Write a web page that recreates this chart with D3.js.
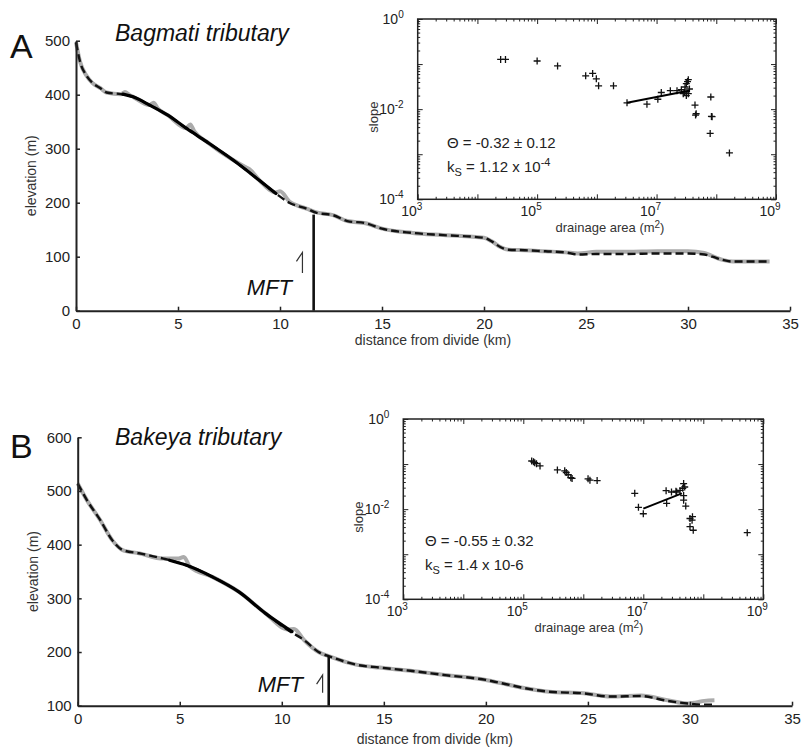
<!DOCTYPE html>
<html>
<head>
<meta charset="utf-8">
<script src="https://cdn.jsdelivr.net/npm/d3@7"></script>
<style>
  body { margin: 0; background: #fff; }
  svg { font-family: "Liberation Sans", Arial, Helvetica, sans-serif; }
</style>
</head>
<body>
<div id="chart"></div>
<script>
// long profiles: [distance from divide (km), elevation (m)]
const smoothA = [[0,497],[0.2,461],[0.5,436],[0.8,422],[1.2,412],[1.5,404],[2.2,401],[2.8,396],[3.6,381],[4.5,362],[5.4,338],[6.4,313],[7.7,279],[9.0,241],[9.8,217],[10.5,199],[11.3,189],[11.8,181],[12.6,177],[13.3,166],[14.2,162],[15,152],[16.5,144],[18,140],[20,135],[20.4,128],[20.8,118],[21.2,113],[22,112],[23,110],[24,108],[24.6,104],[25.5,105],[27,105],[28.5,106],[30,106],[30.8,104],[31.2,100],[31.7,94],[32.2,91],[33,91],[34,91]];
const rawA = [[0,497],[0.2,461],[0.5,436],[0.8,422],[1.2,412],[1.5,404],[2.2,401],[2.4,405],[2.6,400],[2.8,396],[3.6,381],[3.8,385],[4.0,375],[4.5,362],[5.4,338],[5.6,345],[5.8,332],[6.4,313],[7.7,279],[8.3,266],[8.5,262],[9.0,241],[9.8,219],[10.0,221],[10.5,201],[10.7,197],[11.3,189],[11.8,182],[12.6,177],[13.3,166],[14.2,162],[15,152],[16.5,144],[18,140],[20,135],[20.4,128],[20.8,118],[21.2,113],[22,112],[23,110],[24,108],[24.6,106],[25.5,109],[27,109],[28.5,110],[30,110],[30.8,107],[31.2,101],[31.7,94],[32.2,91],[33,91],[34,91]];
const fitProfileA = [[2.3,401],[2.8,396],[3.6,381],[4.5,362],[5.4,338],[6.4,313],[7.7,279],[9.0,241],[9.8,217]];

const smoothB = [[0,514],[0.45,483],[1.1,446],[1.7,408],[2.2,390],[3,384],[4.2,374],[5.3,362],[6.6,340],[7.9,312],[9.2,272],[10.3,241],[11.1,222],[11.8,200],[12.4,191],[13.7,176],[14.8,171],[16.3,165],[18,157],[20,148],[21,140],[22,132],[23.1,126],[24.8,123],[26.1,117],[27.6,118],[28.9,109],[29.9,104],[30.5,102],[31.2,102]];
const rawB = [[0,514],[0.45,483],[1.1,446],[1.7,408],[2.2,390],[3,384],[4.2,374],[4.9,374],[5.2,377],[5.5,359],[6.6,340],[7.9,312],[9.2,272],[10.3,242],[10.6,243],[11.1,222],[11.8,200],[12.4,191],[13.7,176],[14.8,171],[16.3,165],[18,157],[20,148],[21,140],[22,132],[23.1,126],[24.8,123],[26.1,117],[27.6,119],[28.9,110],[29.9,104],[30.3,106],[30.7,109],[31.2,110]];
const fitProfileB = [[4.5,371],[5.3,362],[6.6,340],[7.9,312],[9.2,272],[10.5,238]];

// slope-area data: [drainage area (m2), slope]
const slopeAreaA = [[2.45e4,0.127],[2.95e4,0.127],[1.0e5,0.117],[2.2e5,0.091],[6.5e5,0.055],[8.5e5,0.062],[9.8e5,0.047],[1.07e6,0.033],[1.9e6,0.033],[3.2e6,0.0138],[6.9e6,0.0129],[1.05e7,0.0166],[1.2e7,0.0234],[1.7e7,0.0257],[2.2e7,0.0257],[2.6e7,0.027],[2.8e7,0.022],[2.95e7,0.024],[3.15e7,0.037],[3.3e7,0.041],[3.4e7,0.045],[3.4e7,0.022],[3.15e7,0.02],[3.55e7,0.028],[3.0e7,0.031],[8.1e7,0.0186],[4.4e7,0.0123],[4.6e7,0.0079],[4.5e7,0.0074],[8.3e7,0.0069],[8.5e7,0.0068],[7.9e7,0.0029],[1.66e8,0.00107]];
const fitSlopeA = [[3.2e6,0.0138],[3.6e7,0.026]];

const slopeAreaB = [[1.38e5,0.117],[1.48e5,0.112],[1.55e5,0.107],[1.66e5,0.102],[1.9e5,0.091],[3.7e5,0.074],[4.9e5,0.071],[5.2e5,0.065],[5.6e5,0.058],[6.2e5,0.05],[6.5e5,0.048],[1.2e6,0.047],[1.29e6,0.044],[1.7e6,0.043],[7.2e6,0.0224],[8.3e6,0.011],[1.0e7,0.0079],[2.4e7,0.0257],[2.45e7,0.0135],[2.95e7,0.024],[3.5e7,0.025],[3.6e7,0.024],[4.1e7,0.026],[4.55e7,0.029],[4.9e7,0.031],[4.7e7,0.037],[4.7e7,0.020],[4.7e7,0.0158],[5.1e7,0.0117],[6.0e7,0.0062],[6.5e7,0.0057],[6.6e7,0.0068],[6.0e7,0.0041],[6.8e7,0.0034],[5.4e8,0.003]];
const fitSlopeB = [[1.0e7,0.0103],[4.4e7,0.0224]];

const distTicks = [0,5,10,15,20,25,30,35];
const elevTicksA = [0,100,200,300,400,500];
const elevTicksB = [100,200,300,400,500,600];
const areaLabelExp = [3,5,7,9];
const slopeLabelExp = [0,-2,-4];

const svg = d3.select("#chart").append("svg")
  .attr("width", 801)
  .attr("height", 748);

function drawProfile(c) {
  const x = d3.scaleLinear().domain([0, 35]).range([c.left, c.right]);
  const y = d3.scaleLinear().domain([c.ticks[0], c.ticks[c.ticks.length - 1]]).range([c.bottom, c.top]);
  const g = svg.append("g");

  const line = d3.line().x(d => x(d[0])).y(d => y(d[1])).curve(d3.curveMonotoneX);

  g.append("path").attr("d", line(c.raw))
    .attr("fill", "none").attr("stroke", "#ababab").attr("stroke-width", 4)
    .attr("stroke-linejoin", "round");
  g.append("path").attr("d", line(c.smooth))
    .attr("fill", "none").attr("stroke", "#111").attr("stroke-width", 2.4)
    .attr("stroke-dasharray", "8,4");
  g.append("path").attr("d", line(c.fit))
    .attr("fill", "none").attr("stroke", "#000").attr("stroke-width", 3.2)
    .attr("stroke-linecap", "round");

  // MFT marker
  g.append("line")
    .attr("x1", x(c.mft)).attr("x2", x(c.mft))
    .attr("y1", y(c.ticks[0])).attr("y2", y(c.mftTop))
    .attr("stroke", "#111").attr("stroke-width", 2.6);
  g.append("text")
    .attr("x", x(c.mftLabel[0])).attr("y", y(c.mftLabel[1]))
    .attr("text-anchor", "end").attr("font-style", "italic")
    .attr("font-size", 22).attr("fill", "#111").text("MFT");
  const sx = x(c.fault[0]), sy0 = y(c.fault[1]), sy1 = y(c.fault[2]);
  g.append("path")
    .attr("d", `M${sx},${sy1}V${sy0}L${sx - 6},${sy0 + 9}`)
    .attr("fill", "none").attr("stroke", "#333").attr("stroke-width", 1.2);

  const xAxis = g.append("g")
    .attr("transform", `translate(0,${c.bottom})`)
    .call(d3.axisBottom(x).tickValues(distTicks).tickSizeInner(-4).tickSizeOuter(0).tickPadding(8));
  const yAxis = g.append("g")
    .attr("transform", `translate(${c.left},0)`)
    .call(d3.axisLeft(y).tickValues(c.ticks).tickSizeInner(-4).tickSizeOuter(0).tickPadding(6));
  [xAxis, yAxis].forEach(a => {
    a.select(".domain").attr("stroke", "#222").attr("stroke-width", 2);
    a.selectAll(".tick line").attr("stroke", "#222").attr("stroke-width", 1.5);
    a.selectAll("text").attr("font-size", 15).attr("fill", "#222")
      .attr("font-family", "Liberation Sans, Arial, sans-serif");
  });

  g.append("text")
    .attr("x", (c.left + c.right) / 2).attr("y", c.xLabelY)
    .attr("text-anchor", "middle").attr("font-size", 14).attr("fill", "#333")
    .text("distance from divide (km)");
  g.append("text")
    .attr("transform", `translate(${c.left - 40},${(c.top + c.bottom) / 2}) rotate(-90)`)
    .attr("text-anchor", "middle").attr("font-size", 14).attr("fill", "#333")
    .text("elevation (m)");

  g.append("text").attr("x", 10).attr("y", c.letterY)
    .attr("font-size", 34).attr("fill", "#111").text(c.letter);
  g.append("text").attr("x", 115).attr("y", c.titleY)
    .attr("font-size", 23).attr("font-style", "italic").attr("fill", "#111").text(c.title);
}

function drawInset(c) {
  const x = d3.scaleLog().domain([1e3, 1e9]).range([c.left, c.right]);
  const y = d3.scaleLog().domain([1e-4, 1]).range([c.bottom, c.top]);
  const g = svg.append("g");

  g.append("rect")
    .attr("x", c.left).attr("y", c.top)
    .attr("width", c.right - c.left).attr("height", c.bottom - c.top)
    .attr("fill", "#fff").attr("stroke", "#222").attr("stroke-width", 1.5);

  const majorX = d3.range(3, 10).map(e => Math.pow(10, e));
  const minorX = [];
  d3.range(3, 9).forEach(e => d3.range(2, 10).forEach(m => minorX.push(m * Math.pow(10, e))));
  const majorY = d3.range(-4, 1).map(e => Math.pow(10, e));
  const minorY = [];
  d3.range(-4, 0).forEach(e => d3.range(2, 10).forEach(m => minorY.push(m * Math.pow(10, e))));

  const tick = (axis, pos, vals, size) => {
    const a = g.append("g").attr("transform", pos)
      .call(axis.tickValues(vals).tickSizeInner(size).tickSizeOuter(0).tickFormat(""));
    a.select(".domain").remove();
    a.selectAll(".tick line").attr("stroke", "#222").attr("stroke-width", 1);
  };
  tick(d3.axisBottom(x), `translate(0,${c.bottom})`, majorX, -5);
  tick(d3.axisBottom(x), `translate(0,${c.bottom})`, minorX, -2.5);
  tick(d3.axisTop(x), `translate(0,${c.top})`, majorX, -5);
  tick(d3.axisTop(x), `translate(0,${c.top})`, minorX, -2.5);
  tick(d3.axisLeft(y), `translate(${c.left},0)`, majorY, -5);
  tick(d3.axisLeft(y), `translate(${c.left},0)`, minorY, -2.5);
  tick(d3.axisRight(y), `translate(${c.right},0)`, majorY, -5);
  tick(d3.axisRight(y), `translate(${c.right},0)`, minorY, -2.5);

  // tick labels 10^n
  areaLabelExp.forEach(e => {
    const t = g.append("text").attr("x", x(Math.pow(10, e)) - 6).attr("y", c.bottom + 17)
      .attr("text-anchor", "middle").attr("font-size", 14).attr("fill", "#222");
    t.append("tspan").text("10");
    t.append("tspan").attr("dy", -6).attr("font-size", 10).text(e);
  });
  slopeLabelExp.forEach(e => {
    const t = g.append("text").attr("x", c.left - 14).attr("y", y(Math.pow(10, e)) + 5)
      .attr("text-anchor", "end").attr("font-size", 14).attr("fill", "#222");
    t.append("tspan").text("10");
    t.append("tspan").attr("dy", -6).attr("font-size", 10).text(e);
  });

  const xl = g.append("text").attr("x", c.xLabelX).attr("y", c.bottom + 33)
    .attr("text-anchor", "middle").attr("font-size", 13).attr("fill", "#333");
  xl.append("tspan").text("drainage area (m");
  xl.append("tspan").attr("dy", -4).attr("font-size", 10).text("2");
  xl.append("tspan").attr("dy", 4).text(")");
  g.append("text")
    .attr("transform", `translate(${c.left - 40},${(c.top + c.bottom) / 2 + 8}) rotate(-90)`)
    .attr("text-anchor", "middle").attr("font-size", 13).attr("fill", "#333")
    .text("slope");

  const plus = "M-3.5,0H3.5M0,-3.5V3.5";
  g.selectAll(".pt").data(c.pts).enter().append("path")
    .attr("transform", d => `translate(${x(d[0])},${y(d[1])})`)
    .attr("d", plus).attr("stroke", "#111").attr("stroke-width", 1.3).attr("fill", "none");
  g.append("path")
    .attr("d", d3.line().x(d => x(d[0])).y(d => y(d[1]))(c.fit))
    .attr("stroke", "#000").attr("stroke-width", 2).attr("fill", "none");

  g.append("text").attr("x", c.textX).attr("y", c.textY)
    .attr("font-size", 15).attr("fill", "#222").text(c.theta);
  const k = g.append("text").attr("x", c.textX).attr("y", c.textY + 24)
    .attr("font-size", 15).attr("fill", "#222");
  k.append("tspan").text("k");
  k.append("tspan").attr("dy", 4).attr("font-size", 11).text("S");
  k.append("tspan").attr("dy", -4).text(c.ks[0]);
  if (c.ks[1]) k.append("tspan").attr("dy", -6).attr("font-size", 11).text(c.ks[1]);
}

drawProfile({
  left: 76, right: 790, top: 40.7, bottom: 310.7, ticks: elevTicksA,
  raw: rawA, smooth: smoothA, fit: fitProfileA,
  mft: 11.65, mftTop: 178, mftLabel: [10.59, 29], fault: [11.1, 108, 70],
  xLabelY: 345, letter: "A", letterY: 58, title: "Bagmati tributary", titleY: 41
});
drawProfile({
  left: 77.7, right: 792, top: 437.3, bottom: 705.7, ticks: elevTicksB,
  raw: rawB, smooth: smoothB, fit: fitProfileB,
  mft: 12.3, mftTop: 192, mftLabel: [11.04, 126], fault: [12.0, 157, 124],
  xLabelY: 744, letter: "B", letterY: 458, title: "Bakeya tributary", titleY: 445
});

drawInset({
  left: 417.7, right: 776, top: 19, bottom: 199.3,
  pts: slopeAreaA, fit: fitSlopeA, xLabelX: 610,
  textX: 447, textY: 148, theta: "\u0398 = -0.32 \u00b1 0.12", ks: [" = 1.12 x 10", "-4"]
});
drawInset({
  left: 403.3, right: 763.3, top: 419, bottom: 599.3,
  pts: slopeAreaB, fit: fitSlopeB, xLabelX: 589,
  textX: 425, textY: 546, theta: "\u0398 = -0.55 \u00b1 0.32", ks: [" = 1.4 x 10-6", null]
});
</script>
</body>
</html>
